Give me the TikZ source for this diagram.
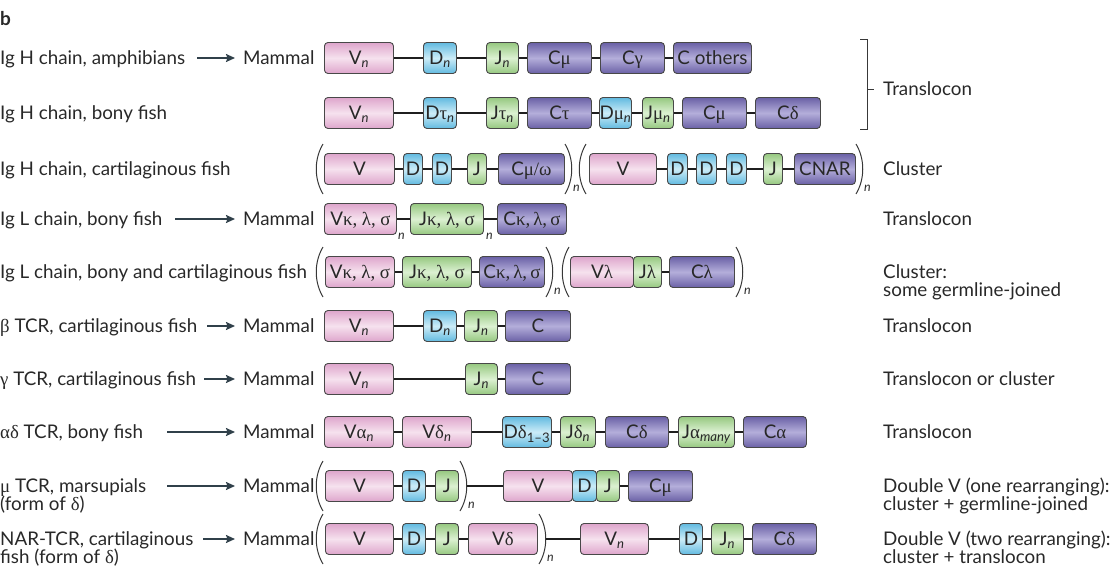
\documentclass[tikz,border=0pt]{standalone}
\usepackage{fontspec}
\setmainfont{Lato}
\newfontfamily\grk{Liberation Serif}
\usetikzlibrary{arrows.meta}

\definecolor{vedge}{RGB}{222,165,204}
\definecolor{vmid}{RGB}{246,226,238}
\definecolor{dedge}{RGB}{98,186,224}
\definecolor{dmid}{RGB}{204,236,247}
\definecolor{jedge}{RGB}{150,200,128}
\definecolor{jmid}{RGB}{220,241,210}
\definecolor{cedge}{RGB}{106,96,166}
\definecolor{cmid}{RGB}{180,174,218}
\definecolor{boxline}{RGB}{72,72,72}
\definecolor{inktext}{RGB}{40,40,40}
\definecolor{arrowink}{RGB}{48,64,74}

\newcommand{\gk}[1]{{\grk #1}}
\newcommand{\subit}[1]{\textsubscript{\itshape #1}}
% parentheses round a repeated group
\newcommand{\openbr}[2]{\draw[brk] (#1+7,#2-25) .. controls (#1-2,#2-10) and (#1-2,#2+10) .. (#1+7,#2+25);}
\newcommand{\closebr}[3]{\draw[brk] (#2,#3-25) .. controls (#2+9,#3-10) and (#2+9,#3+10) .. (#2,#3+25);
  \node[subn] (#1) at (#2+8,#3+19) {n};}

\begin{document}
\begin{tikzpicture}[x=1pt, y=-1pt, font=\fontsize{18.8}{20}\selectfont,
    lbl/.style={anchor=west, inner sep=0pt, text height=13.5pt, text depth=0pt, text=inktext},
    seg/.style={anchor=west, draw=boxline, line width=0.9pt, rounded corners=3.5pt,
      minimum height=31pt, inner sep=0pt, text height=13.5pt, text depth=0pt, text=inktext},
    vseg/.style={seg, top color=vedge, bottom color=vedge, middle color=vmid},
    dseg/.style={seg, top color=dedge, bottom color=dedge, middle color=dmid},
    jseg/.style={seg, top color=jedge, bottom color=jedge, middle color=jmid},
    cseg/.style={seg, top color=cedge, bottom color=cedge, middle color=cmid},
    link/.style={line width=2.6pt, draw=black!88},
    arr/.style={line width=1.8pt, draw=arrowink, -{Stealth[length=9pt, width=8pt, inset=1.5pt]}, shorten >=8pt},
    brk/.style={line width=1pt, draw=black!78},
    subn/.style={anchor=west, inner sep=0pt, font=\fontsize{12.5}{12.5}\selectfont\itshape, text=inktext}]
  \useasboundingbox (0,0) rectangle (1120,568);

  \node[lbl, font=\fontsize{19}{19}\selectfont\bfseries] (fig) at (0,19) {b};

  % --- Ig H chain, amphibians ---
  \node[lbl] (l1) at (0,58) {Ig H chain, amphibians};
  \coordinate (s1) at (197,58);
  \node[lbl] (m1) at (243,58) {Mammal};
  \draw[arr] (s1) -- (m1);
  \node[vseg, minimum width=69] (a1) at (324,58) {V\subit{n}};
  \node[dseg, minimum width=33] (a2) at (423,58) {D\subit{n}};
  \node[jseg, minimum width=32] (a3) at (486,58) {J\subit{n}};
  \node[cseg, minimum width=64] (a4) at (527,58) {C\gk{μ}};
  \node[cseg, minimum width=64] (a5) at (600,58) {C\gk{γ}};
  \node[cseg, minimum width=78] (a6) at (673,58) {C others};

  % --- Ig H chain, bony fish ---
  \node[lbl] (l2) at (0,113) {Ig H chain, bony fish};
  \node[vseg, minimum width=69] (b1) at (324,113) {V\subit{n}};
  \node[dseg, minimum width=33] (b2) at (423,113) {D\gk{τ}\subit{n}};
  \node[jseg, minimum width=32] (b3) at (486,113) {J\gk{τ}\subit{n}};
  \node[cseg, minimum width=64] (b4) at (527,113) {C\gk{τ}};
  \node[dseg, minimum width=32] (b5) at (599,113) {D\gk{μ}\subit{n}};
  \node[jseg, minimum width=31] (b6) at (642,113) {J\gk{μ}\subit{n}};
  \node[cseg, minimum width=64] (b7) at (682,113) {C\gk{μ}};
  \node[cseg, minimum width=65] (b8) at (755,113) {C\gk{δ}};

  % bracket for the first two rows
  \draw[brk] (860,39) -- (867,39) -- (867,129) -- (860,129);
  \draw[brk] (867,89) -- (874,89);
  \node[lbl] (r1) at (883,89) {Translocon};

  % --- Ig H chain, cartilaginous fish ---
  \node[lbl] (l3) at (0,169) {Ig H chain, cartilaginous fish};
  \openbr{316}{169}
  \node[vseg, minimum width=70] (c1) at (324,169) {V};
  \node[dseg, minimum width=19] (c2) at (403,169) {D};
  \node[dseg, minimum width=19] (c3) at (432,169) {D};
  \node[jseg, minimum width=19] (c4) at (467,169) {J};
  \node[cseg, minimum width=66] (c5) at (498,169) {C\gk{μ/ω}};
  \closebr{cn1}{565}{169}
  \openbr{579}{169}
  \node[vseg, minimum width=67] (c6) at (589,169) {V};
  \node[dseg, minimum width=20] (c7) at (667,169) {D};
  \node[dseg, minimum width=20] (c8) at (696,169) {D};
  \node[dseg, minimum width=20] (c9) at (726,169) {D};
  \node[jseg, minimum width=19] (c10) at (763,169) {J};
  \node[cseg, minimum width=61] (c11) at (794,169) {CNAR};
  \closebr{cn2}{856}{169}
  \node[lbl] (r3) at (883,169) {Cluster};

  % --- Ig L chain, bony fish ---
  \node[lbl] (l4) at (0,219) {Ig L chain, bony fish};
  \coordinate (s4) at (175,219);
  \node[lbl] (m4) at (243,219) {Mammal};
  \draw[arr] (s4) -- (m4);
  \node[vseg, minimum width=72] (d1) at (324,219) {V\gk{κ, λ, σ}};
  \node[subn] (dn1) at (398,236) {n};
  \node[jseg, minimum width=73] (d2) at (410,219) {J\gk{κ, λ, σ}};
  \node[subn] (dn2) at (486,236) {n};
  \node[cseg, minimum width=69] (d3) at (497,219) {C\gk{κ,\,λ,\,σ}};
  \node[lbl] (r4) at (883,219) {Translocon};

  % --- Ig L chain, bony and cartilaginous fish ---
  \node[lbl] (l5) at (0,272) {Ig L chain, bony and cartilaginous fish};
  \openbr{316}{272}
  \node[vseg, minimum width=69] (e1) at (325,272) {V\gk{κ, λ, σ}};
  \node[jseg, minimum width=69] (e2) at (402,272) {J\gk{κ, λ, σ}};
  \node[cseg, minimum width=65] (e3) at (479,272) {C\gk{κ,\,λ,\,σ}};
  \closebr{en1}{546}{272}
  \openbr{562}{272}
  \node[vseg, minimum width=63] (e4) at (570,272) {V\gk{λ}};
  \node[jseg, minimum width=28] (e5) at (633,272) {J\gk{λ}};
  \node[cseg, minimum width=65] (e6) at (669,272) {C\gk{λ}};
  \closebr{en2}{736}{272}
  \node[lbl] (r5) at (883,272) {Cluster:};
  \node[lbl] (r5b) at (883,290) {some germline-joined};

  % --- beta TCR ---
  \node[lbl] (l6) at (0,326) {\gk{β} TCR, cartilaginous fish};
  \coordinate (s6) at (207,326);
  \node[lbl] (m6) at (243,326) {Mammal};
  \draw[arr] (s6) -- (m6);
  \node[vseg, minimum width=69] (f1) at (324,326) {V\subit{n}};
  \node[dseg, minimum width=33] (f2) at (423,326) {D\subit{n}};
  \node[jseg, minimum width=33] (f3) at (464,326) {J\subit{n}};
  \node[cseg, minimum width=65] (f4) at (505,326) {C};
  \node[lbl] (r6) at (883,326) {Translocon};

  % --- gamma TCR ---
  \node[lbl] (l7) at (0,379) {\gk{γ} TCR, cartilaginous fish};
  \coordinate (s7) at (204,379);
  \node[lbl] (m7) at (243,379) {Mammal};
  \draw[arr] (s7) -- (m7);
  \node[vseg, minimum width=69] (g1) at (324,379) {V\subit{n}};
  \node[jseg, minimum width=32] (g2) at (465,379) {J\subit{n}};
  \node[cseg, minimum width=65] (g3) at (505,379) {C};
  \node[lbl] (r7) at (883,379) {Translocon or cluster};

  % --- alpha delta TCR ---
  \node[lbl] (l8) at (0,432) {\gk{αδ} TCR, bony fish};
  \coordinate (s8) at (167,432);
  \node[lbl] (m8) at (243,432) {Mammal};
  \draw[arr] (s8) -- (m8);
  \node[vseg, minimum width=69] (h1) at (324,432) {V\gk{α}\subit{n}};
  \node[vseg, minimum width=69] (h2) at (402,432) {V\gk{δ}\subit{n}};
  \node[dseg, minimum width=49] (h3) at (502,432) {D\gk{δ}\textsubscript{1--3}};
  \node[jseg, minimum width=35] (h4) at (560,432) {J\gk{δ}\subit{n}};
  \node[cseg, minimum width=63] (h5) at (605,432) {C\gk{δ}};
  \node[jseg, minimum width=56] (h6) at (678,432) {J\gk{α}\subit{many}};
  \node[cseg, minimum width=63] (h7) at (743,432) {C\gk{α}};
  \node[lbl] (r8) at (883,432) {Translocon};

  % --- mu TCR ---
  \node[lbl] (l9) at (0,486) {\gk{μ} TCR, marsupials};
  \node[lbl] (l9b) at (0,504) {(form of \gk{δ})};
  \coordinate (s9) at (167,486);
  \node[lbl] (m9) at (243,486) {Mammal};
  \draw[arr] (s9) -- (m9);
  \openbr{316}{486}
  \node[vseg, minimum width=68] (i1) at (325,486) {V};
  \node[dseg, minimum width=23] (i2) at (402,486) {D};
  \node[jseg, minimum width=23] (i3) at (435,486) {J};
  \closebr{in1}{460}{486}
  \coordinate (ip) at (467,486);
  \node[vseg, minimum width=69] (i4) at (503,486) {V};
  \node[dseg, minimum width=24] (i5) at (572,486) {D};
  \node[jseg, minimum width=23] (i6) at (596,486) {J};
  \node[cseg, minimum width=64] (i7) at (628,486) {C\gk{μ}};
  \node[lbl] (r9) at (883,486) {Double V (one rearranging):};
  \node[lbl] (r9b) at (883,504) {cluster + germline-joined};

  % --- NAR-TCR ---
  \node[lbl] (l10) at (0,539) {NAR-TCR, cartilaginous};
  \node[lbl] (l10b) at (0,557) {fish (form of \gk{δ})};
  \coordinate (s10) at (203,539);
  \node[lbl] (m10) at (243,539) {Mammal};
  \draw[arr] (s10) -- (m10);
  \openbr{316}{539}
  \node[vseg, minimum width=68] (j1) at (325,539) {V};
  \node[dseg, minimum width=23] (j2) at (402,539) {D};
  \node[jseg, minimum width=23] (j3) at (435,539) {J};
  \node[vseg, minimum width=69] (j4) at (468,539) {V\gk{δ}};
  \closebr{jn1}{539}{539}
  \coordinate (jp) at (546,539);
  \node[vseg, minimum width=68] (j5) at (580,539) {V\subit{n}};
  \node[dseg, minimum width=23] (j6) at (679,539) {D};
  \node[jseg, minimum width=32] (j7) at (711,539) {J\subit{n}};
  \node[cseg, minimum width=64] (j8) at (752,539) {C\gk{δ}};
  \node[lbl] (r10) at (883,539) {Double V (two rearranging):};
  \node[lbl] (r10b) at (883,557) {cluster + translocon};

  % --- joining lines ---
  \foreach \p/\q in {a1/a2,a2/a3,a3/a4,a4/a5,a5/a6,
      b1/b2,b2/b3,b3/b4,b4/b5,b5/b6,b6/b7,b7/b8,
      c1/c2,c2/c3,c3/c4,c4/c5,c6/c7,c7/c8,c8/c9,c9/c10,c10/c11,
      d1/d2,d2/d3,e1/e2,e2/e3,e5/e6,
      f1/f2,f2/f3,f3/f4,g1/g2,g2/g3,
      h1/h2,h2/h3,h3/h4,h4/h5,h5/h6,h6/h7,
      i1/i2,i2/i3,ip/i4,i6/i7,
      j1/j2,j2/j3,j3/j4,jp/j5,j5/j6,j6/j7,j7/j8}
    \draw[link] (\p) -- (\q);
\end{tikzpicture}
\end{document}
